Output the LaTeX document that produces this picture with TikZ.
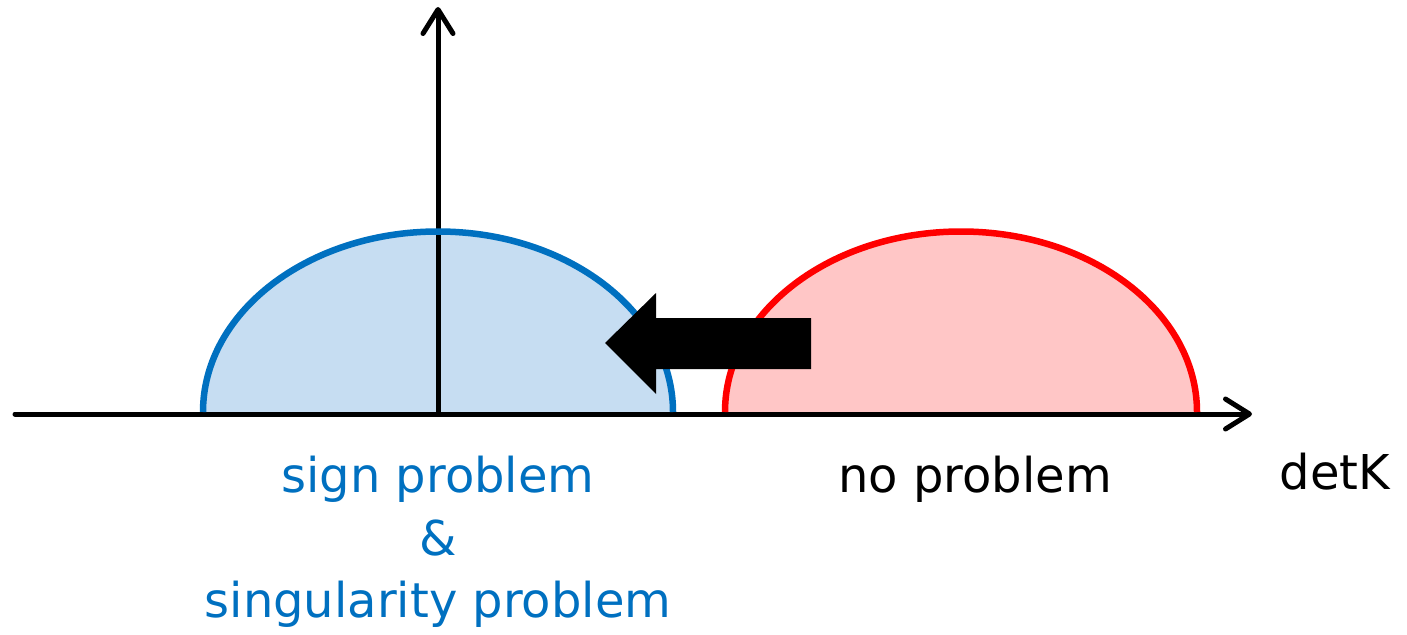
\documentclass[tikz,border=0pt]{standalone}
\usepackage{fontspec}
\setmainfont{DejaVu Sans}
\usetikzlibrary{arrows.meta}
\definecolor{cblue}{HTML}{0070C0}
\definecolor{cbluefill}{HTML}{C6DDF2}
\definecolor{credfill}{HTML}{FFC6C6}
\tikzset{
  axis/.style={line width=5pt, line cap=round, -{Straight Barb[length=24pt, width=30pt, line cap=round, line join=round]}},
  lbl/.style={anchor=base, inner sep=0pt, font=\fontsize{48}{52}\selectfont},
}
\begin{document}
\begin{tikzpicture}[x=1pt, y=-1pt]
\useasboundingbox (0,0) rectangle (1407,634);
% half-ellipse fills
\fill[cbluefill] (203,413) arc[start angle=180, end angle=360, x radius=235, y radius=181.5] -- cycle;
\fill[credfill] (725,413) arc[start angle=180, end angle=360, x radius=236, y radius=181.5] -- cycle;
% axes
\coordinate (xs) at (15,414);
\coordinate (xe) at (1252,414);
\coordinate (ys) at (438,414);
\coordinate (ye) at (438,7);
\draw[axis] (xs) -- (xe);
\draw[axis] (ys) -- (ye);
% half-ellipse outlines
\draw[cblue, line width=6.5pt] (203,412) arc[start angle=180, end angle=360, x radius=235, y radius=180.5];
\draw[red, line width=6.5pt] (725,412) arc[start angle=180, end angle=360, x radius=236, y radius=180.5];
% block arrow
\fill[black] (811,318) -- (656,318) -- (656,293) -- (605,343) -- (656,394) -- (656,369) -- (811,369) -- cycle;
% labels
\node[lbl, text=cblue] (sign) at (438,492) {sign problem};
\node[lbl, text=cblue] (amp) at (438,555) {\&};
\node[lbl, text=cblue] (sing) at (438,617) {singularity problem};
\node[lbl] (nop) at (975,492) {no problem};
\node[lbl] (detk) at (1335,489) {detK};
\end{tikzpicture}
\end{document}
